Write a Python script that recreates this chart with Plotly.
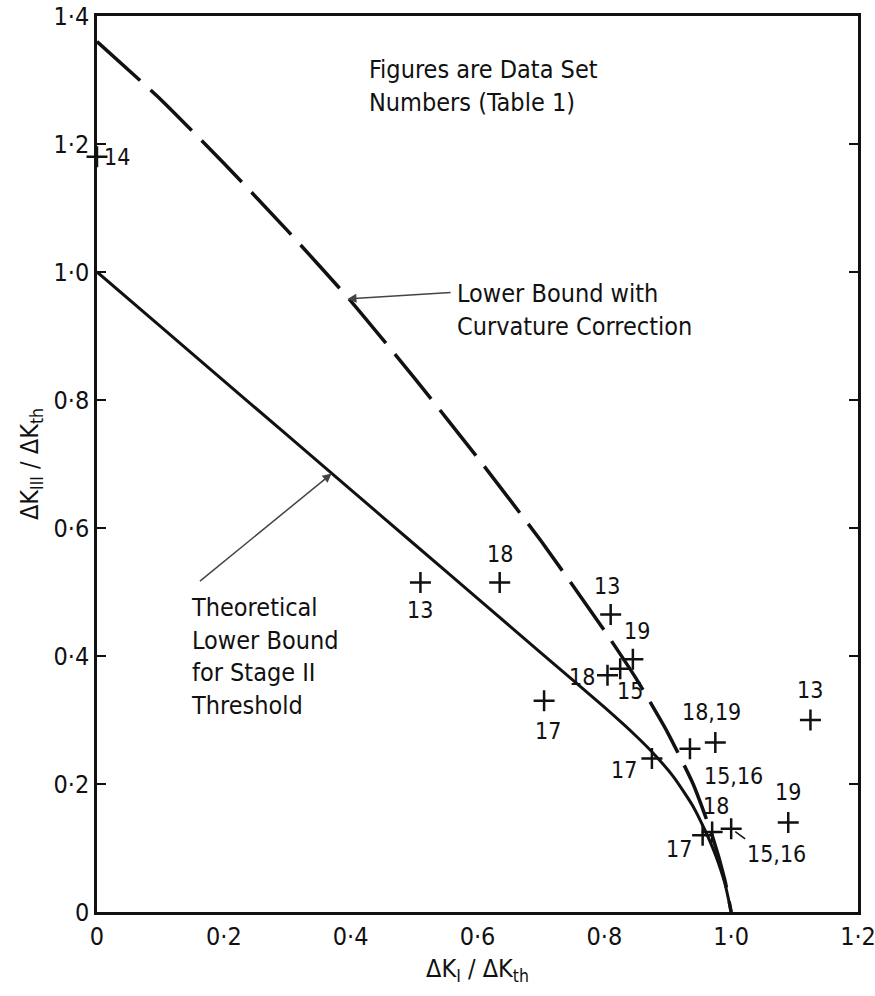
import plotly.graph_objects as go

# ---- data ----
solid_x = [0.0, 0.1, 0.2, 0.3, 0.4, 0.5, 0.6, 0.7, 0.8, 0.85, 0.88, 0.91, 0.94, 0.96, 0.975, 0.99, 1.0]
solid_y = [1.0, 0.915, 0.83, 0.745, 0.66, 0.575, 0.49, 0.405, 0.32, 0.275, 0.245, 0.21, 0.165, 0.125, 0.09, 0.045, 0.0]

dash_x = [0.0, 0.1, 0.2, 0.3, 0.4, 0.5, 0.6, 0.7, 0.8, 0.85, 0.9, 0.94, 0.97, 0.99, 1.0]
dash_y = [1.36, 1.27, 1.17, 1.065, 0.955, 0.835, 0.71, 0.58, 0.44, 0.365, 0.28, 0.2, 0.12, 0.05, 0.0]

pt_x = [0.0, 0.51, 0.635, 0.705, 0.81, 0.845, 0.825, 0.805, 0.875, 0.935, 0.975, 1.125, 1.09, 1.0, 0.955, 0.97]
pt_y = [1.18, 0.515, 0.515, 0.33, 0.465, 0.395, 0.38, 0.37, 0.24, 0.255, 0.265, 0.30, 0.14, 0.13, 0.12, 0.125]
pt_label = ["14", "13", "18", "17", "13", "19", "15", "18", "17", "15,16", "18,19", "13", "19", "15,16", "17", "18"]

x_tickvals = [0, 0.2, 0.4, 0.6, 0.8, 1.0, 1.2]
x_ticktext = ["0", "0·2", "0·4", "0·6", "0·8", "1·0", "1·2"]
y_tickvals = [0, 0.2, 0.4, 0.6, 0.8, 1.0, 1.2, 1.4]
y_ticktext = ["0", "0·2", "0·4", "0·6", "0·8", "1·0", "1·2", "1·4"]

# label placement (pixel offsets from the point; arrow=True draws a leader line)
label_offsets = [(20, 0, False), (0, 28, False), (0, -28, False), (4, 30, False),
                 (-4, -28, False), (4, -28, False), (10, 22, False), (-26, 2, False),
                 (-28, 12, False), (12, 12, True), (-4, -30, False), (0, -30, False),
                 (0, -30, False), (14, 10, True), (-24, 14, False), (4, -26, False)]

FONT = "DejaVu Sans Condensed, Liberation Sans Narrow, Liberation Sans"
INK = "#111111"

fig = go.Figure()
fig.add_trace(go.Scatter(x=solid_x, y=solid_y, mode="lines",
                         line=dict(color=INK, width=3, shape="spline", smoothing=0.5),
                         hoverinfo="skip", showlegend=False))
fig.add_trace(go.Scatter(x=dash_x, y=dash_y, mode="lines",
                         line=dict(color=INK, width=3.5, dash="58px,14px", shape="spline", smoothing=0.5),
                         hoverinfo="skip", showlegend=False))
fig.add_trace(go.Scatter(x=pt_x, y=pt_y, mode="markers", cliponaxis=False,
                         marker=dict(symbol="cross-thin", size=15, line=dict(color=INK, width=2.5)),
                         showlegend=False))

annotations = []
for x, y, lab, (dx, dy, arr) in zip(pt_x, pt_y, pt_label, label_offsets):
    if arr:
        annotations.append(dict(x=x, y=y, xref="x", yref="y", text=lab, showarrow=True,
                                arrowhead=0, arrowwidth=1.5, arrowcolor=INK, ax=dx, ay=dy,
                                standoff=5, font=dict(family=FONT, size=23, color=INK),
                                xanchor="left", yanchor="top"))
    else:
        annotations.append(dict(x=x, y=y, xref="x", yref="y", text=lab, showarrow=False,
                                xshift=dx, yshift=-dy, font=dict(family=FONT, size=23, color=INK)))

annotations += [
    dict(x=0.425, y=1.29, xref="x", yref="y", showarrow=False, xanchor="left", align="left",
         text="Figures are Data Set<br>Numbers (Table 1)",
         font=dict(family=FONT, size=25, color=INK)),
    dict(x=0.565, y=0.94, xref="x", yref="y", showarrow=False, xanchor="left", align="left",
         text="Lower Bound with<br>Curvature Correction",
         font=dict(family=FONT, size=25, color=INK)),
    dict(x=0.395, y=0.958, xref="x", yref="y", axref="x", ayref="y", ax=0.56, ay=0.968,
         showarrow=True, arrowhead=2, arrowsize=1.2, arrowwidth=1.5, arrowcolor="#444", text=""),
    dict(x=0.145, y=0.40, xref="x", yref="y", showarrow=False, xanchor="left", align="left",
         text="Theoretical<br>Lower Bound<br>for Stage II<br>Threshold",
         font=dict(family=FONT, size=25, color=INK)),
    dict(x=0.37, y=0.685, xref="x", yref="y", axref="x", ayref="y", ax=0.16, ay=0.515,
         showarrow=True, arrowhead=2, arrowsize=1.2, arrowwidth=1.5, arrowcolor="#444", text=""),
]

axis_common = dict(showgrid=False, zeroline=False, showline=True, linecolor=INK, linewidth=2.5,
                   mirror="allticks", ticklen=9, tickwidth=2, tickcolor=INK, automargin=False,
                   tickfont=dict(family=FONT, size=25, color=INK))

fig.update_layout(
    width=875, height=996,
    margin=dict(l=97, r=17, t=16, b=84),
    paper_bgcolor="white", plot_bgcolor="white",
    xaxis=dict(range=[0, 1.2], tickvals=x_tickvals, ticktext=x_ticktext, ticks="",
               ticklabeloverflow="allow",
               title=dict(text="ΔK<sub>I</sub> / ΔK<sub>th</sub>", standoff=10,
                          font=dict(family=FONT, size=25, color=INK)), **axis_common),
    yaxis=dict(range=[0, 1.4], tickvals=y_tickvals, ticktext=y_ticktext, ticks="inside",
               ticklabeloverflow="allow",
               title=dict(text="ΔK<sub>III</sub> / ΔK<sub>th</sub>", standoff=8,
                          font=dict(family=FONT, size=25, color=INK)), **axis_common),
    annotations=annotations,
)

fig.write_html("out.html")
